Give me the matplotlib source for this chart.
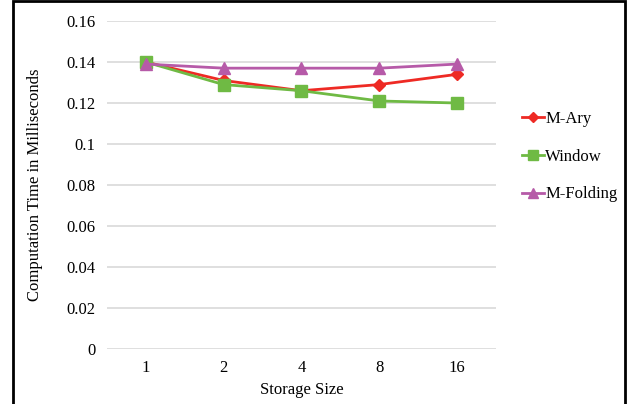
import matplotlib.pyplot as plt
from matplotlib.patches import Rectangle

# Data
storage_sizes = ["1", "2", "4", "8", "16"]
m_ary = [0.140, 0.131, 0.126, 0.129, 0.134]
window = [0.140, 0.129, 0.126, 0.121, 0.120]
m_folding = [0.139, 0.137, 0.137, 0.137, 0.139]
y_ticks = [0, 0.02, 0.04, 0.06, 0.08, 0.10, 0.12, 0.14, 0.16]
y_tick_labels = ["0", "0.02", "0.04", "0.06", "0.08", "0.1", "0.12", "0.14", "0.16"]

plt.rcParams["font.family"] = ["Liberation Serif", "DejaVu Serif"]

fig = plt.figure(figsize=(6.28, 4.04), dpi=100)
ax = fig.add_axes([0.170, 0.136, 0.620, 0.812])

x = range(len(storage_sizes))
ax.plot(x, m_ary, marker="D", color="#EE2A24", linewidth=2, markersize=6.5, label="M-Ary", zorder=3)
ax.plot(x, window, marker="s", color="#6FBA44", linewidth=2, markersize=9, label="Window", zorder=3)
ax.plot(x, m_folding, marker="^", color="#B65AA8", linewidth=2, markersize=9, label="M-Folding", zorder=4)

ax.set_xlim(-0.5, len(storage_sizes) - 0.5)
ax.set_ylim(0, 0.16)
ax.set_xticks(list(x))
ax.set_xticklabels(storage_sizes)
ax.set_yticks(y_ticks)
ax.set_yticklabels(y_tick_labels)
ax.tick_params(length=0, labelsize=12, pad=8)
ax.grid(axis="y", color="#D9D9D9", linewidth=1.2)
ax.set_axisbelow(True)
for s in ax.spines.values():
    s.set_visible(False)

ax.set_xlabel("Storage Size", fontsize=12, labelpad=4)
ax.set_ylabel("Computation Time in Milliseconds", fontsize=12, labelpad=17)

fig.legend(loc="center left", bbox_to_anchor=(0.831, 0.612), frameon=False,
           fontsize=12, labelspacing=1.3, handlelength=1.3, handletextpad=0.1,
           borderaxespad=0, borderpad=0, markerscale=0.75)

fig.patches.append(Rectangle((0.02, -0.01), 0.975, 1.007, transform=fig.transFigure,
                             fill=False, edgecolor="black", linewidth=2))

fig.savefig("out.png", dpi=100)
